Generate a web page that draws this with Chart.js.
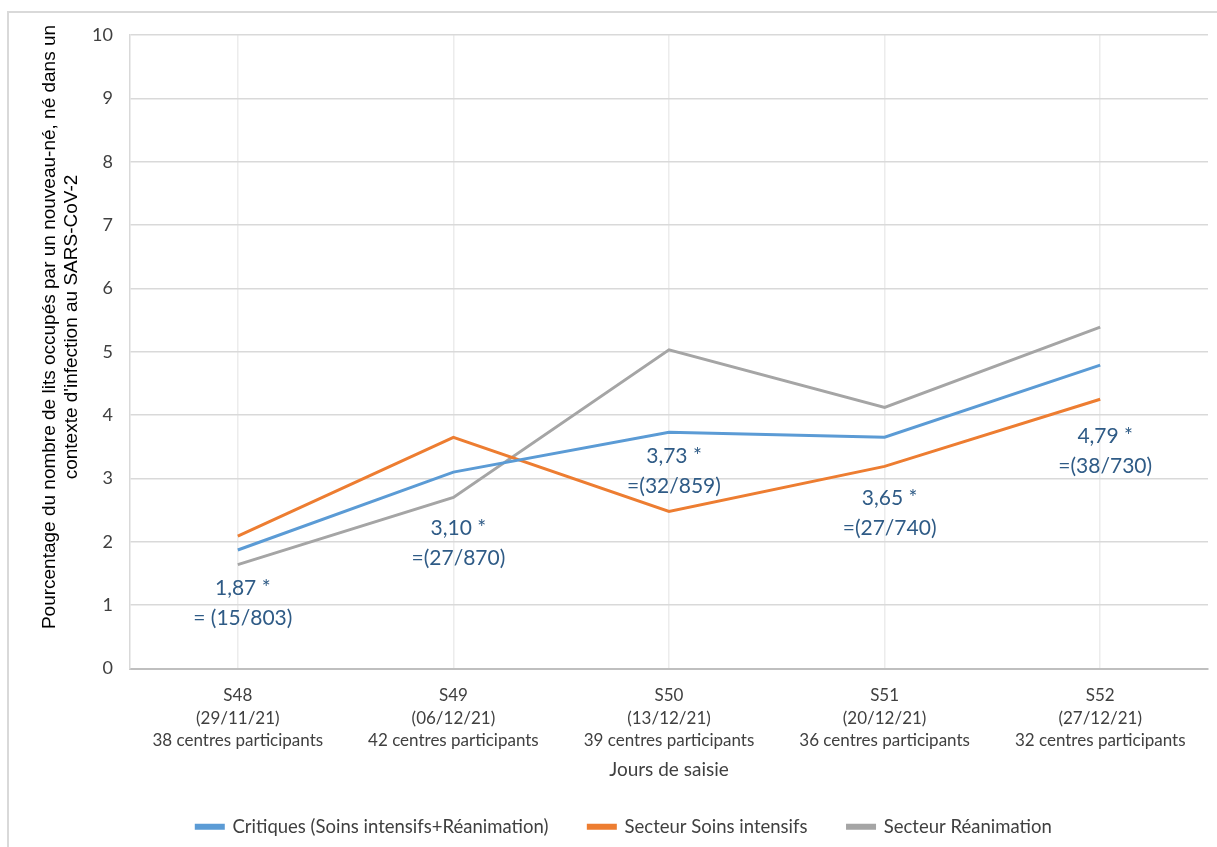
<!DOCTYPE html>
<html>
<head>
<meta charset="utf-8">
<script src="https://cdn.jsdelivr.net/npm/chart.js@4"></script>
<style>
  html, body { margin: 0; padding: 0; background: #fff; }
  #wrap { position: relative; width: 1217px; height: 847px; overflow: hidden; }
  #frame { position: absolute; left: 7px; top: 11px; width: 1230px; height: 860px; border: 2px solid #d9d9d9; box-sizing: border-box; }
  #c { position: absolute; left: 0; top: 0; }
</style>
</head>
<body>
<div id="wrap">
  <div id="frame"></div>
  <canvas id="c" width="1217" height="847"></canvas>
</div>
<script>
const weeks = [
  ["S48", "(29/11/21)", "38 centres participants"],
  ["S49", "(06/12/21)", "42 centres participants"],
  ["S50", "(13/12/21)", "39 centres participants"],
  ["S51", "(20/12/21)", "36 centres participants"],
  ["S52", "(27/12/21)", "32 centres participants"]
];
const critiques = [1.87, 3.10, 3.73, 3.65, 4.79];
const soinsIntensifs = [2.09, 3.65, 2.48, 3.19, 4.25];
const reanimation = [1.64, 2.70, 5.03, 4.12, 5.39];

// data labels of the "Critiques" series
const noteTop = ["1,87 *", "3,10 *", "3,73 *", "3,65 *", "4,79 *"];
const noteBottom = ["= (15/803)", "=(27/870)", "=(32/859)", "=(27/740)", "=(38/730)"];
const noteY = [1.26, 2.21, 3.35, 2.69, 3.67];

const yTitle = [
  "Pourcentage du nombre de lits occupés par un nouveau-né, né dans un",
  "contexte d'infection au SARS-CoV-2"
];

const FONT = "Lato, 'Open Sans', sans-serif";

const notesPlugin = {
  id: "notes",
  afterDatasetsDraw(chart) {
    const ctx = chart.ctx;
    const xs = chart.scales.x, ys = chart.scales.y;
    ctx.save();
    ctx.fillStyle = "#2F5B86";
    ctx.font = "21px " + FONT;
    ctx.textAlign = "center";
    ctx.textBaseline = "middle";
    noteTop.forEach((t, i) => {
      const x = xs.getPixelForValue(i) + 5;
      const y = ys.getPixelForValue(noteY[i]);
      ctx.fillText(t, x, y);
      ctx.fillText(noteBottom[i], x, y + 30);
    });
    ctx.restore();
  }
};

// vertical axis title, a bit above the middle like the original
const yTitlePlugin = {
  id: "ytitle",
  afterDraw(chart) {
    const ctx = chart.ctx;
    ctx.save();
    ctx.translate(50, 327);
    ctx.rotate(-Math.PI / 2);
    ctx.fillStyle = "#000";
    ctx.font = "19px 'Liberation Sans', Arial, sans-serif";
    ctx.textAlign = "center";
    ctx.textBaseline = "middle";
    ctx.fillText(yTitle[0], 0, 0);
    ctx.fillText(yTitle[1], 0, 22);
    ctx.restore();
  }
};

// the original legend sits a little right of centre
const legendShift = {
  id: "legendShift",
  afterLayout(chart) {
    chart.legend.left += 20;
    chart.legend.right += 20;
  }
};

const line = (label, data, color) => ({
  label, data,
  borderColor: color,
  backgroundColor: color,
  borderWidth: 3,
  pointRadius: 0,
  tension: 0
});

new Chart(document.getElementById("c"), {
  type: "line",
  data: {
    labels: weeks,
    datasets: [
      line("Critiques (Soins intensifs+Réanimation)", critiques, "#5B9BD5"),
      line("Secteur Soins intensifs", soinsIntensifs, "#ED7D31"),
      line("Secteur Réanimation", reanimation, "#A5A5A5")
    ]
  },
  plugins: [notesPlugin, yTitlePlugin, legendShift],
  options: {
    responsive: false,
    animation: false,
    layout: { padding: { left: 0, right: 9, top: 35, bottom: 1 } },
    plugins: {
      legend: {
        position: "bottom",
        labels: {
          font: { family: FONT, size: 18.5 },
          color: "#404040",
          boxWidth: 27,
          boxHeight: 3,
          padding: 40
        }
      },
      tooltip: { enabled: false }
    },
    scales: {
      x: {
        offset: true,
        afterFit(scale) { scale.height = 109; },
        grid: { offset: false, color: "#ececec", lineWidth: 1.5, drawTicks: false },
        border: { color: "#bfbfbf", width: 2 },
        ticks: {
          font: { family: FONT, size: 17, lineHeight: 1.32 },
          color: "#404040",
          padding: 16,
          maxRotation: 0
        },
        title: {
          display: true,
          text: "Jours de saisie",
          font: { family: FONT, size: 19 },
          color: "#404040",
          padding: { top: 0, bottom: -4 }
        }
      },
      y: {
        min: 0,
        max: 10,
        afterFit(scale) { scale.width = 130; },
        grid: { color: "#d9d9d9", lineWidth: 1.5, drawTicks: false },
        border: { color: "#d9d9d9", width: 1.5 },
        ticks: {
          stepSize: 1,
          font: { family: FONT, size: 18 },
          color: "#404040",
          padding: 17
        }
      }
    }
  }
});
</script>
</body>
</html>
